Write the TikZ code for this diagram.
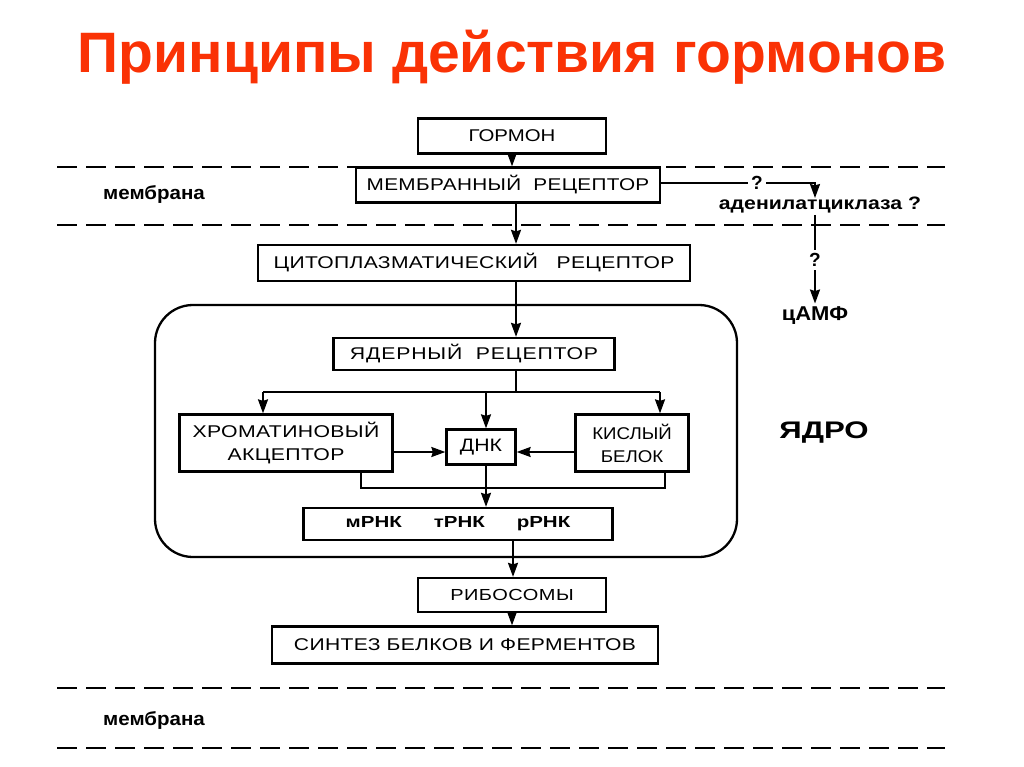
\documentclass[tikz,border=0pt]{standalone}
\usepackage{fontspec}
\setmainfont{Liberation Sans}
\usetikzlibrary{arrows.meta}
\definecolor{titlered}{RGB}{250,50,5}
\newcommand{\fsz}[2]{\fontsize{#1}{#2}\selectfont}
\newcommand{\wide}[2]{\addfontfeatures{FakeStretch=#1,LetterSpace=#2}}
\begin{document}
\begin{tikzpicture}[x=1pt,y=-1pt,
  box/.style={draw,line width=2.3pt,minimum height=35pt,inner sep=0pt,font=\fsz{17}{19}\wide{1.22}{3}},
  arr/.style={line width=2pt,-{Stealth[length=14pt,width=10pt,inset=1.5pt]}},
  ln/.style={line width=2pt},
  memb/.style={line width=2.8pt,dash pattern=on 20pt off 9pt},
  lbl/.style={font=\fsz{19}{21}\bfseries\wide{1.08}{0}}]
\useasboundingbox (0,0) rectangle (1024,767);
\node[font=\fsz{57}{62}\bfseries,text=titlered] (title) at (512,57) {Принципы действия гормонов};
% membranes
\coordinate (m1l) at (57,167); \coordinate (m1r) at (945,167);
\coordinate (m2l) at (57,225); \coordinate (m2r) at (945,225);
\coordinate (m3l) at (57,688); \coordinate (m3r) at (945,688);
\coordinate (m4l) at (57,748); \coordinate (m4r) at (945,748);
\draw[memb] (m1l) -- (m1r);
\draw[memb] (m2l) -- (m2r);
\draw[memb] (m3l) -- (m3r);
\draw[memb] (m4l) -- (m4r);
\node[lbl] (mem1) at (154,195) {мембрана};
\node[lbl] (mem2) at (154,720) {мембрана};
% nucleus
\node[draw,line width=2.3pt,rounded corners=38pt,minimum width=582pt,minimum height=252pt,inner sep=0pt] (nuc) at (446,431) {};
\node[font=\fsz{24}{26}\bfseries\wide{1.3}{0}] (yadro) at (824,433) {ЯДРО};
% boxes
\node[box,minimum width=188pt,fill=white,font=\fsz{17}{19}\wide{1.2}{0}] (horm) at (512,136) {ГОРМОН};
\node[box,minimum width=304pt,fill=white,font=\fsz{17}{19}\wide{1.22}{2}] (mrec) at (508,185) {МЕМБРАННЫЙ\ \ РЕЦЕПТОР};
\node[box,minimum width=432pt,minimum height=36pt,font=\fsz{17}{19}\wide{1.24}{2}] (crec) at (474,263) {ЦИТОПЛАЗМАТИЧЕСКИЙ\ \ \ РЕЦЕПТОР};
\node[box,minimum width=281pt,minimum height=32pt,font=\fsz{17}{19}\wide{1.25}{5}] (nrec) at (474,354) {ЯДЕРНЫЙ\ \ РЕЦЕПТОР};
\node[box,minimum width=213pt,minimum height=57pt,align=center,font=\fsz{17}{23}\wide{1.25}{2}] (chrom) at (286,443) {ХРОМАТИНОВЫЙ\\АКЦЕПТОР};
\node[box,minimum width=69pt,minimum height=35pt,font=\fsz{18}{20}\wide{1.18}{0}] (dna) at (481,447) {ДНК};
\node[box,minimum width=113pt,minimum height=57pt,align=center,font=\fsz{17}{23}\wide{1.1}{0}] (acid) at (632,443) {КИСЛЫЙ\\БЕЛОК};
\node[box,minimum width=309pt,minimum height=32pt,font=\fsz{16}{18}\bfseries\wide{1.28}{0}] (rna) at (458,524) {мРНК\hspace{32pt}тРНК\hspace{32pt}рРНК};
\node[box,minimum width=188pt,minimum height=34pt,font=\fsz{16}{18}\wide{1.25}{3}] (ribo) at (512,595) {РИБОСОМЫ};
\node[box,minimum width=386pt,minimum height=37pt,font=\fsz{17}{19}\wide{1.24}{2}] (synt) at (465,645) {СИНТЕЗ БЕЛКОВ И ФЕРМЕНТОВ};
% main arrows
\draw[arr] (horm.south) -- (horm.south |- mrec.north);
\draw[arr] ([xshift=8pt]mrec.south) -- ([xshift=8pt]mrec.south |- crec.north);
\draw[arr] (crec.south -| 516,0) -- (nrec.north -| 516,0);
\coordinate (br) at (516,392);
\draw[ln] (nrec.south -| br) -- (br);
\draw[ln] (263,392) -- (660,392);
\draw[arr] (263,392) -- (chrom.north -| 263,0);
\draw[arr] (486,392) -- (dna.north -| 486,0);
\draw[arr] (660,392) -- (acid.north -| 660,0);
\draw[arr] (chrom.east |- 0,452) -- (dna.west |- 0,452);
\draw[arr] (acid.west |- 0,452) -- (dna.east |- 0,452);
\draw[ln] (chrom.south -| 361,0) -- (361,488) -- (665,488) -- (acid.south -| 665,0);
\draw[arr] (dna.south -| 486,0) -- (rna.north -| 486,0);
\draw[arr] (rna.south -| 513,0) -- (ribo.north -| 513,0);
\draw[arr] (ribo.south) -- (ribo.south |- synt.north);
% adenylate cyclase branch
\node[font=\fsz{19}{21}\bfseries] (q1) at (757,183) {?};
\node[font=\fsz{18}{20}\bfseries\wide{1.18}{0}] (adc) at (820,205) {аденилатциклаза ?};
\node[font=\fsz{19}{21}\bfseries] (q2) at (815,260) {?};
\node[font=\fsz{20}{22}\bfseries\wide{1.1}{0}] (camp) at (815,316) {цАМФ};
\draw[ln] (mrec.east |- 0,183) -- (q1.west |- 0,183);
\draw[arr] (q1.east |- 0,183) -- (815,183) -- (815,198);
\draw[ln] (815,215) -- (q2.north -| 815,0);
\draw[arr] (q2.south -| 815,0) -- (camp.north -| 815,0);
\end{tikzpicture}
\end{document}
